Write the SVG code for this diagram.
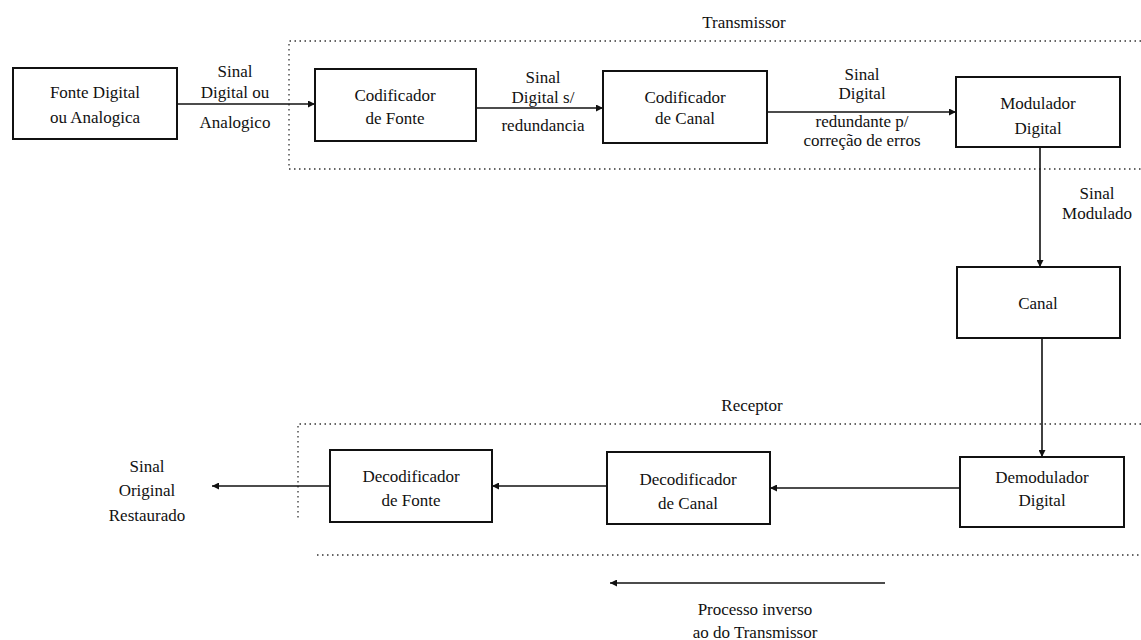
<svg xmlns="http://www.w3.org/2000/svg" width="1141" height="640" viewBox="0 0 1141 640">
  <defs>
    <marker id="arr" viewBox="0 0 10 10" refX="10" refY="5" markerWidth="9" markerHeight="7" markerUnits="userSpaceOnUse" orient="auto">
      <path d="M0,0 L10,5 L0,10 z" fill="#111"/>
    </marker>
    <style>
      .box { fill: #fff; stroke: #111; stroke-width: 2; }
      .t { font-family: 'Liberation Serif', 'DejaVu Serif', 'Times New Roman', serif; font-size: 17px; fill: #111; text-anchor: middle; }
      .conn { stroke: #111; stroke-width: 1.6; fill: none; marker-end: url(#arr); }
      .dot { stroke: #333; stroke-width: 1.3; fill: none; stroke-dasharray: 1.5 3.5; }
    </style>
  </defs>
  <rect width="1141" height="640" fill="#fff"/>

  <g id="transmissor-region">
    <path class="dot" d="M1141,41 L289,41 L289,169 L1141,169"/>
    <text class="t" x="744" y="28">Transmissor</text>
  </g>
  <g id="receptor-region">
    <path class="dot" d="M1141,424 L298,424 L298,518"/>
    <path class="dot" d="M317,555 L1141,555"/>
    <text class="t" x="752" y="411">Receptor</text>
  </g>

  <g id="connectors">
    <line class="conn" x1="177" y1="104" x2="315" y2="104"/>
    <line class="conn" x1="476" y1="108" x2="603" y2="108"/>
    <line class="conn" x1="767" y1="112" x2="956" y2="112"/>
    <line class="conn" x1="1040" y1="147" x2="1040" y2="267"/>
    <line class="conn" x1="1042" y1="338" x2="1042" y2="457"/>
    <line class="conn" x1="960" y1="488" x2="770" y2="488"/>
    <line class="conn" x1="607" y1="486" x2="492" y2="486"/>
    <line class="conn" x1="330" y1="486" x2="212" y2="486"/>
    <line class="conn" x1="885" y1="583" x2="610" y2="583"/>
  </g>

  <g id="labels">
    <text class="t" x="235" y="77">Sinal</text>
    <text class="t" x="235" y="98">Digital ou</text>
    <text class="t" x="235" y="128">Analogico</text>
    <text class="t" x="543" y="83">Sinal</text>
    <text class="t" x="543" y="103">Digital s/</text>
    <text class="t" x="543" y="131">redundancia</text>
    <text class="t" x="862" y="80">Sinal</text>
    <text class="t" x="862" y="99">Digital</text>
    <text class="t" x="862" y="127">redundante p/</text>
    <text class="t" x="862" y="146">correção de erros</text>
    <text class="t" x="1097" y="199">Sinal</text>
    <text class="t" x="1097" y="219">Modulado</text>
    <text class="t" x="147" y="472">Sinal</text>
    <text class="t" x="147" y="496">Original</text>
    <text class="t" x="147" y="521">Restaurado</text>
    <text class="t" x="755" y="615">Processo inverso</text>
    <text class="t" x="755" y="638">ao do Transmissor</text>
  </g>

  <g id="fonte">
    <rect class="box" x="13" y="68" width="164" height="71"/>
    <text class="t" x="95" y="98">Fonte Digital</text>
    <text class="t" x="95" y="123">ou Analogica</text>
  </g>
  <g id="codificador-fonte">
    <rect class="box" x="315" y="69" width="161" height="72"/>
    <text class="t" x="395" y="101">Codificador</text>
    <text class="t" x="395" y="124">de Fonte</text>
  </g>
  <g id="codificador-canal">
    <rect class="box" x="603" y="71" width="164" height="72"/>
    <text class="t" x="685" y="103">Codificador</text>
    <text class="t" x="685" y="124">de Canal</text>
  </g>
  <g id="modulador">
    <rect class="box" x="956" y="77" width="164" height="70"/>
    <text class="t" x="1038" y="109">Modulador</text>
    <text class="t" x="1038" y="134">Digital</text>
  </g>
  <g id="canal">
    <rect class="box" x="957" y="267" width="163" height="71"/>
    <text class="t" x="1038" y="309">Canal</text>
  </g>
  <g id="demodulador">
    <rect class="box" x="960" y="457" width="164" height="70"/>
    <text class="t" x="1042" y="483">Demodulador</text>
    <text class="t" x="1042" y="506">Digital</text>
  </g>
  <g id="decodificador-canal">
    <rect class="box" x="607" y="452" width="163" height="72"/>
    <text class="t" x="688" y="485">Decodificador</text>
    <text class="t" x="688" y="509">de Canal</text>
  </g>
  <g id="decodificador-fonte">
    <rect class="box" x="330" y="450" width="162" height="72"/>
    <text class="t" x="411" y="482">Decodificador</text>
    <text class="t" x="411" y="506">de Fonte</text>
  </g>
</svg>
